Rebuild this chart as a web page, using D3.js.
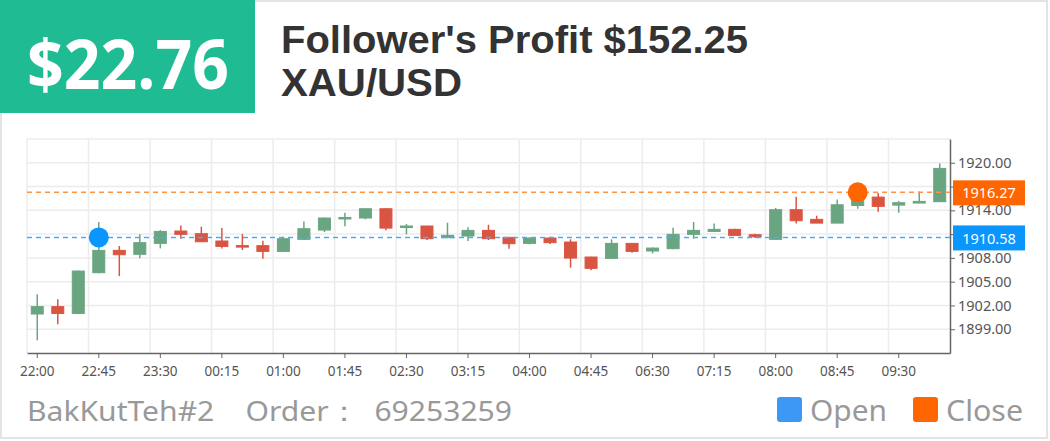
<!DOCTYPE html>
<html>
<head>
<meta charset="utf-8">
<script src="https://cdn.jsdelivr.net/npm/d3@7"></script>
<style>
    html, body {
        margin: 0;
        padding: 0;
        background: #fff;
    }
    #card-svg {
        display: block;
        font-family: "Noto Sans", "Open Sans", sans-serif;
    }
</style>
</head>
<body>
<svg id="card-svg" width="1050" height="441"></svg>
<script>
    // 15 minute candles, XAU/USD
    const times = ["22:00","22:15","22:30","22:45","23:00","23:15","23:30","23:45",
        "00:00","00:15","00:30","00:45","01:00","01:15","01:30","01:45",
        "02:00","02:15","02:30","02:45","03:00","03:15","03:30","03:45",
        "04:00","04:15","04:30","04:45","06:00","06:15","06:30","06:45",
        "07:00","07:15","07:30","07:45","08:00","08:15","08:30","08:45",
        "09:00","09:15","09:30","09:45","10:00"];
    const opens = [1900.92,1901.85,1900.99,1906.13,1908.95,1908.45,1909.83,1911.39,
        1911.05,1910.13,1909.55,1909.54,1908.82,1910.34,1911.51,1913.00,
        1913.03,1914.20,1911.95,1912.02,1910.55,1910.76,1911.47,1910.59,
        1909.83,1910.50,1910.00,1908.11,1907.94,1909.83,1908.87,1909.16,
        1910.97,1911.34,1911.60,1910.92,1910.34,1914.08,1912.86,1912.39,
        1914.61,1915.67,1914.66,1914.92,1915.09];
    const closes = [1901.85,1900.99,1906.34,1908.95,1908.40,1909.92,1911.34,1910.97,
        1910.04,1909.45,1909.40,1908.82,1910.42,1911.68,1913.03,1913.10,
        1914.20,1911.76,1912.02,1910.42,1910.84,1911.47,1910.42,1909.79,
        1910.50,1909.92,1907.98,1906.68,1909.83,1908.82,1909.24,1910.97,
        1911.47,1911.60,1910.84,1910.67,1914.08,1912.69,1912.39,1914.70,
        1916.00,1914.50,1914.96,1915.13,1919.29];
    const lows = [1897.60,1899.62,1900.90,1906.05,1905.70,1907.94,1909.20,1910.42,
        1910.00,1909.20,1909.00,1907.90,1908.80,1910.30,1911.26,1912.00,
        1912.86,1911.50,1910.97,1910.25,1910.50,1910.13,1910.25,1909.16,
        1909.70,1909.75,1906.76,1906.43,1907.90,1908.66,1908.57,1909.10,
        1910.42,1911.26,1910.84,1910.50,1910.25,1912.35,1912.39,1912.39,
        1914.20,1913.82,1913.70,1914.90,1915.05];
    const highs = [1903.40,1902.77,1906.40,1912.52,1909.50,1910.97,1911.50,1912.10,
        1911.93,1911.76,1911.00,1910.17,1910.67,1912.60,1913.10,1913.70,
        1914.25,1914.25,1912.27,1912.05,1912.44,1911.85,1912.18,1910.60,
        1910.59,1910.67,1910.34,1908.15,1910.34,1909.87,1909.33,1911.80,
        1912.52,1912.35,1911.68,1911.05,1914.30,1915.71,1913.32,1915.38,
        1916.60,1916.20,1915.17,1916.39,1919.92];

    // 1911 and 1917 sit under the price tags, so they get no label
    const yTicks = [1899, 1902, 1905, 1908, 1911, 1914, 1917, 1920];
    const yHidden = [1911, 1917];
    const xTickLabels = ["22:00","22:45","23:30","00:15","01:00","01:45","02:30","03:15",
        "04:00","04:45","06:30","07:15","08:00","08:45","09:30"];

    const openTrade = { time: "22:45", price: 1910.58 };
    const closeTrade = { time: "09:00", price: 1916.27 };

    const profit = "$22.76";
    const titleLines = ["Follower's Profit $152.25", "XAU/USD"];
    const footerText = "BakKutTeh#2    Order\uff1a  69253259";

    const upColor = "#6aa581";
    const downColor = "#d95541";
    const openColor = "#0a96fd";
    const closeColor = "#ff6500";

    let svg = d3.select("#card-svg");

    // card border
    svg.append("rect")
        .attr("x", 1).attr("y", 1)
        .attr("width", 1046).attr("height", 437)
        .attr("fill", "#fff")
        .attr("stroke", "#e3e3e3")
        .attr("stroke-width", 2);

    // header
    svg.append("rect")
        .attr("x", 0).attr("y", 0)
        .attr("width", 255).attr("height", 113)
        .attr("fill", "#1fbc94");

    svg.append("text")
        .attr("x", 27).attr("y", 89)
        .attr("textLength", 202)
        .attr("lengthAdjust", "spacingAndGlyphs")
        .attr("font-size", 68)
        .attr("font-weight", "bold")
        .attr("fill", "#fff")
        .text(profit);

    svg.selectAll("text.title")
        .data(titleLines)
        .join("text")
        .attr("class", "title")
        .attr("x", 281)
        .attr("y", (d, i) => i === 0 ? 53 : 96)
        .attr("textLength", (d, i) => i === 0 ? 467 : 181)
        .attr("lengthAdjust", "spacingAndGlyphs")
        .attr("font-family", "Liberation Sans, Arial, sans-serif")
        .attr("font-size", 38)
        .attr("font-weight", "bold")
        .attr("fill", "#333")
        .text(d => d);

    // chart
    let plotLeft = 27, plotRight = 950, plotTop = 139, plotBottom = 353;

    let x = d3.scaleBand().domain(times).range([plotLeft, plotRight]);
    let y = d3.scaleLinear().domain([1896, 1923]).range([plotBottom, plotTop]);

    let grid = svg.append("g").attr("class", "grid");
    grid.selectAll("line.h")
        .data(d3.range(1899, 1924, 3))
        .join("line")
        .attr("class", "h")
        .attr("x1", plotLeft).attr("x2", plotRight)
        .attr("y1", d => y(d)).attr("y2", d => y(d))
        .attr("stroke", "#ececec")
        .attr("stroke-width", 1.5);
    grid.selectAll("line.v")
        .data(xTickLabels)
        .join("line")
        .attr("class", "v")
        .attr("x1", d => x(d)).attr("x2", d => x(d))
        .attr("y1", plotTop).attr("y2", plotBottom)
        .attr("stroke", "#ececec")
        .attr("stroke-width", 1.5);

    // axes
    let xAxis = svg.append("g")
        .attr("transform", `translate(0,${plotBottom})`)
        .call(d3.axisBottom(x).tickValues(xTickLabels).tickSize(5).tickSizeOuter(0));
    xAxis.select(".domain").attr("stroke", "#666").attr("stroke-width", 1.5);
    xAxis.selectAll(".tick line").attr("stroke", "#666");
    xAxis.selectAll(".tick text")
        .attr("fill", "#555")
        .attr("font-size", 13.5)
        .attr("font-family", "Noto Sans, sans-serif")
        .attr("dy", "1.1em");

    let yAxis = svg.append("g")
        .attr("transform", `translate(${plotRight},0)`)
        .call(d3.axisRight(y).tickValues(yTicks)
            .tickFormat(d => yHidden.includes(d) ? "" : d3.format(".2f")(d))
            .tickSize(5).tickSizeOuter(0));
    yAxis.select(".domain").attr("stroke", "#666").attr("stroke-width", 1.5);
    yAxis.selectAll(".tick line").attr("stroke", "#666");
    yAxis.selectAll(".tick text")
        .attr("fill", "#555")
        .attr("font-size", 14.5)
        .attr("font-family", "Noto Sans, sans-serif")
        .attr("x", 8);

    // candles
    let candles = times.map((t, i) => ({
        t: t, o: opens[i], c: closes[i], l: lows[i], h: highs[i]
    }));
    let bodyW = 12;
    let cg = svg.append("g").attr("class", "candles");
    let cs = cg.selectAll("g").data(candles).join("g");
    cs.append("line")
        .attr("x1", d => x(d.t) + x.bandwidth() / 2)
        .attr("x2", d => x(d.t) + x.bandwidth() / 2)
        .attr("y1", d => y(d.h))
        .attr("y2", d => y(d.l))
        .attr("stroke", d => d.c >= d.o ? upColor : downColor)
        .attr("stroke-width", 1.5);
    cs.append("rect")
        .attr("x", d => x(d.t) + x.bandwidth() / 2 - bodyW / 2)
        .attr("width", bodyW)
        .attr("y", d => y(Math.max(d.o, d.c)))
        .attr("height", d => Math.max(1.5, Math.abs(y(d.o) - y(d.c))))
        .attr("fill", d => d.c >= d.o ? upColor : downColor)
        .attr("stroke", d => d.c >= d.o ? upColor : downColor)
        .attr("stroke-width", 1);

    // trade lines
    let trades = [
        { p: openTrade, color: openColor, line: "#47adf7" },
        { p: closeTrade, color: closeColor, line: "#ff9448" }
    ];
    svg.selectAll("line.trade")
        .data(trades)
        .join("line")
        .attr("class", "trade")
        .attr("x1", plotLeft).attr("x2", plotRight)
        .attr("y1", d => y(d.p.price)).attr("y2", d => y(d.p.price))
        .attr("stroke", d => d.line)
        .attr("stroke-width", 1.5)
        .attr("stroke-dasharray", "5,4");

    svg.selectAll("circle.trade")
        .data(trades)
        .join("circle")
        .attr("class", "trade")
        .attr("cx", d => x(d.p.time) + x.bandwidth() / 2)
        .attr("cy", d => y(d.p.price))
        .attr("r", 10)
        .attr("fill", d => d.color);

    let tags = svg.selectAll("g.tag").data(trades).join("g").attr("class", "tag");
    tags.append("rect")
        .attr("x", plotRight + 3)
        .attr("y", d => y(d.p.price) - 12)
        .attr("width", 72).attr("height", 25)
        .attr("fill", d => d.color);
    tags.append("text")
        .attr("x", plotRight + 39)
        .attr("y", d => y(d.p.price) + 1)
        .attr("dy", "0.35em")
        .attr("text-anchor", "middle")
        .attr("font-size", 14.5)
        .attr("fill", "#fff")
        .text(d => d.p.price.toFixed(2));

    // footer
    svg.append("text")
        .attr("x", 27).attr("y", 421)
        .attr("font-size", 28)
        .attr("fill", "#999")
        .attr("textLength", 485)
        .attr("lengthAdjust", "spacingAndGlyphs")
        .attr("xml:space", "preserve")
        .style("white-space", "pre")
        .text(footerText);

    let legend = [
        { name: "Open", color: "#3d97f4", x: 777 },
        { name: "Close", color: closeColor, x: 913 }
    ];
    let lg = svg.selectAll("g.legend").data(legend).join("g").attr("class", "legend");
    lg.append("rect")
        .attr("x", d => d.x).attr("y", 397)
        .attr("width", 25).attr("height", 25)
        .attr("rx", 3)
        .attr("fill", d => d.color);
    lg.append("text")
        .attr("x", d => d.x + 33).attr("y", 421)
        .attr("font-size", 29)
        .attr("textLength", 77)
        .attr("lengthAdjust", "spacingAndGlyphs")
        .attr("fill", "#999")
        .text(d => d.name);
</script>
</body>
</html>
